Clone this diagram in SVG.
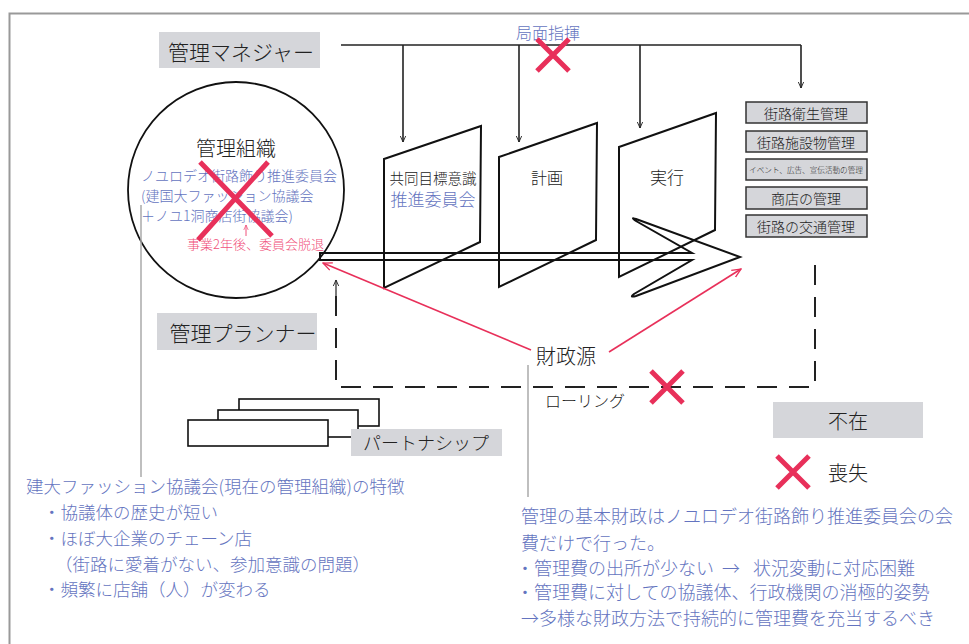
<svg xmlns="http://www.w3.org/2000/svg" width="969" height="644" viewBox="0 0 969 644">
<defs>
<marker id="ab" viewBox="0 0 10 10" refX="9" refY="5" markerWidth="7" markerHeight="7" orient="auto" markerUnits="userSpaceOnUse">
<path d="M0,1 L9,5 L0,9" fill="none" stroke="#222" stroke-width="1.3"/>
</marker>
<marker id="ar" viewBox="0 0 10 10" refX="9" refY="5" markerWidth="10" markerHeight="10" orient="auto" markerUnits="userSpaceOnUse">
<path d="M0,1 L9,5 L0,9" fill="none" stroke="#e8305a" stroke-width="1.3"/>
</marker>
<marker id="as" viewBox="0 0 10 10" refX="9" refY="5" markerWidth="6" markerHeight="6" orient="auto" markerUnits="userSpaceOnUse">
<path d="M0,1 L9,5 L0,9" fill="none" stroke="#f0507a" stroke-width="1.2"/>
</marker>
<g id="xmark"><path d="M-16,-16 L16,16 M16,-16 L-16,16" stroke="#e8305a" stroke-width="5" fill="none"/></g>
</defs>
<style>
text{font-family:"Noto Sans CJK JP","Noto Sans CJK SC",sans-serif;font-weight:300;dominant-baseline:central}
.bk{fill:#222}
.bl{fill:#6474c0}
.pk{fill:#f0507a}
.gbox{fill:#d5d6da}
.rbox{fill:#d5d6da;stroke:#333;stroke-width:1.5}
.ln{stroke:#222;stroke-width:1.6;fill:none}
.pg{stroke:#111;stroke-width:2;fill:none}
.gl{stroke:#aaa;stroke-width:1.5;fill:none}
.dash{stroke:#222;stroke-width:2;fill:none;stroke-dasharray:20 12}
.red{stroke:#e8305a;stroke-width:1.6;fill:none}
</style>
<rect width="969" height="644" fill="#fff"/>
<path d="M9.5,660 L9.5,13.5 L980,13.5" stroke="#999" stroke-width="2" fill="none"/>

<g id="manager">
<rect class="gbox" x="159" y="32" width="161" height="36"/>
<text class="bk" x="241" y="51" font-size="21" text-anchor="middle">管理マネジャー</text>
</g>

<g id="planner">
<rect class="gbox" x="157" y="313" width="160" height="37"/>
<text class="bk" x="243" y="332" font-size="21" text-anchor="middle">管理プランナー</text>
</g>

<g id="org">
<circle cx="236" cy="190" r="108" fill="none" stroke="#111" stroke-width="1.8"/>
<text class="bk" x="236" y="147" font-size="20" text-anchor="middle">管理組織</text>
<text class="bl" x="141" y="175" font-size="14">ノユロデオ街路飾り推進委員会</text>
<text class="bl" x="141" y="195" font-size="14">(建国大ファッション協議会</text>
<text class="bl" x="141" y="215" font-size="14">＋ノユ1洞商店街協議会)</text>
<path d="M246,236 L246,225" stroke="#f0507a" stroke-width="1" fill="none" marker-end="url(#as)"/>
<text class="pk" x="187" y="243" font-size="13">事業2年後、委員会脱退</text>
<path d="M200,162 L272,236 M268,162 L198,240" stroke="#e8305a" stroke-width="5" fill="none"/>
</g>

<g id="stage1">
<path class="pg" d="M384,159 L481,126 L480,242 L384,288 Z"/>
<text class="bk" x="433" y="177" font-size="14.5" text-anchor="middle">共同目標意識</text>
<text class="bl" x="433" y="198" font-size="17" text-anchor="middle">推進委員会</text>
</g>
<g id="stage2">
<path class="pg" d="M499,157 L597,123 L596,240 L499,287 Z"/>
<text class="bk" x="547" y="177" font-size="16" text-anchor="middle">計画</text>
</g>
<g id="stage3">
<path class="pg" d="M619,147 L716,113 L715,230 L619,277 Z"/>
<text class="bk" x="667" y="176" font-size="17" text-anchor="middle">実行</text>
</g>

<g id="bigarrow">
<path d="M320,253 L692,253 L636,221 Q630,217 636,219 L740,257 L636,296 Q629,298 634,294 L692,260 L320,260 Z" fill="none" stroke="#111" stroke-width="2" stroke-linejoin="miter"/>
</g>

<g id="tasks">
<rect class="rbox" x="746" y="102" width="121" height="21"/>
<text class="bk" x="806" y="112.5" font-size="14" text-anchor="middle">街路衛生管理</text>
<rect class="rbox" x="746" y="131" width="121" height="21"/>
<text class="bk" x="806" y="141.5" font-size="14" text-anchor="middle">街路施設物管理</text>
<rect class="rbox" x="746" y="159" width="121" height="21"/>
<text class="bk" x="806" y="169.5" font-size="7.6" text-anchor="middle">イベント、広告、宣伝活動の管理</text>
<rect class="rbox" x="746" y="187" width="121" height="22"/>
<text class="bk" x="806" y="198" font-size="14" text-anchor="middle">商店の管理</text>
<rect class="rbox" x="746" y="215" width="121" height="22"/>
<text class="bk" x="806" y="226" font-size="14" text-anchor="middle">街路の交通管理</text>
</g>

<g id="partnership">
<rect x="239" y="399" width="140" height="27" fill="#fff" stroke="#111" stroke-width="1.6"/>
<rect x="218" y="410" width="140" height="27" fill="#fff" stroke="#111" stroke-width="1.6"/>
<rect x="188" y="420" width="140" height="26" fill="#fff" stroke="#111" stroke-width="1.6"/>
<rect class="gbox" x="351" y="429" width="151" height="27"/>
<text class="bk" x="426" y="442" font-size="18" text-anchor="middle">パートナシップ</text>
</g>

<g id="finance">
<text class="bk" x="566" y="355" font-size="20" text-anchor="middle">財政源</text>
<text class="bk" x="585" y="400" font-size="16" text-anchor="middle">ローリング</text>
</g>

<g id="absent">
<rect class="gbox" x="773" y="402" width="150" height="36"/>
<text class="bk" x="848" y="420" font-size="20" text-anchor="middle">不在</text>
</g>
<g id="legend">
<use href="#xmark" x="793" y="472"/>
<text class="bk" x="848" y="472" font-size="20" text-anchor="middle">喪失</text>
</g>

<g id="connectors">
<path class="ln" d="M341,45 L801,45"/>
<path class="ln" d="M403,45 L403,142" marker-end="url(#ab)"/>
<path class="ln" d="M519,45 L519,142" marker-end="url(#ab)"/>
<path class="ln" d="M640,45 L640,128" marker-end="url(#ab)"/>
<path class="ln" d="M801,45 L801,88" marker-end="url(#ab)"/>
<text class="bl" x="548" y="32" font-size="16" text-anchor="middle">局面指揮</text>
<use href="#xmark" x="553" y="55"/>
<path d="M336,300 L336,280" stroke="#222" stroke-width="1.2" marker-end="url(#ab)"/>
<path class="dash" d="M336,296 L336,387 L815,387 L815,256"/>
<use href="#xmark" x="667" y="387"/>
<path class="red" d="M531,350 L323,263" marker-end="url(#ar)"/>
<path class="red" d="M609,352 L741,269" marker-end="url(#ar)"/>
<path class="gl" d="M141,205 L141,477"/>
<path class="gl" d="M528,365 L528,497"/>
</g>

<g id="note-left" font-size="17.5">
<text class="bl" x="26" y="485">建大ファッション協議会(現在の管理組織)の特徴</text>
<text class="bl" x="43" y="511">・協議体の歴史が短い</text>
<text class="bl" x="43" y="537">・ほぼ大企業のチェーン店</text>
<text class="bl" x="55" y="563">（街路に愛着がない、参加意識の問題）</text>
<text class="bl" x="43" y="588">・頻繁に店舗（人）が変わる</text>
</g>

<g id="note-right" font-size="18">
<text class="bl" x="521" y="515">管理の基本財政はノユロデオ街路飾り推進委員会の会</text>
<text class="bl" x="521" y="542">費だけで行った。</text>
<text class="bl" x="516" y="567">・管理費の出所が少ない<tspan x="722">→</tspan><tspan x="753">状況変動に対応困難</tspan></text>
<text class="bl" x="516" y="591">・管理費に対しての協議体、行政機関の消極的姿勢</text>
<text class="bl" x="521" y="617">→多様な財政方法で持続的に管理費を充当するべき</text>
</g>
</svg>
